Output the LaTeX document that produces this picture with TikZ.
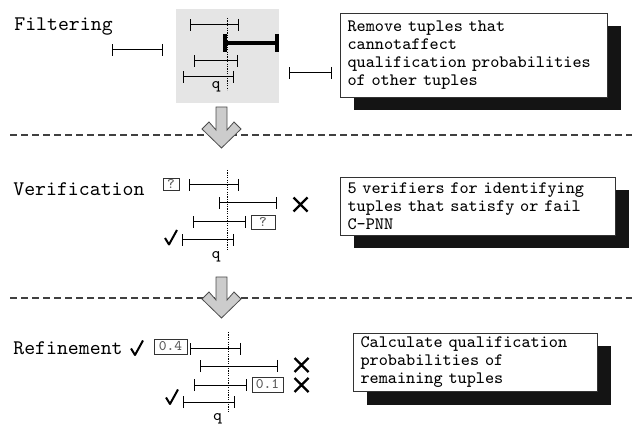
\documentclass[tikz,border=0pt]{standalone}
\usepackage{fontspec}
\usetikzlibrary{arrows.meta,shadows}

\tikzset{
  span/.style={line width=0.5pt, {Bar[width=6pt,line width=0.6pt]}-{Bar[width=6pt,line width=0.6pt]}},
  bigspan/.style={line width=1.8pt, {Bar[width=9pt,line width=1.8pt]}-{Bar[width=9pt,line width=1.8pt]}},
  qline/.style={line width=0.5pt, dash pattern=on 0.6pt off 0.6pt},
  stage/.style={font=\ttfamily\fontsize{10.4}{12}\selectfont, inner sep=0pt, anchor=base west},
  note/.style={draw=black!80, fill=white, line width=0.5pt, align=left,
    font=\ttfamily\fontsize{8.7}{9}\selectfont, inner xsep=3.5pt, inner ysep=0pt, anchor=north west,
    general shadow={fill=black!92, shadow xshift=6.5pt, shadow yshift=-6.5pt}},
  probe/.style={draw=black!80, line width=0.4pt, inner sep=0pt, font=\ttfamily\fontsize{7.3}{7}\selectfont, text=black!65},
  qlabel/.style={font=\ttfamily\fontsize{8}{8}\selectfont, inner sep=0pt},
  divider/.style={draw=black!75, line width=0.7pt, dash pattern=on 3.5pt off 2pt},
  flow/.style={fill=black!20, draw=black!70, line width=0.4pt},
  okmark/.pic={\draw[line width=1pt, line join=round] (-6,0.5) -- (-2,7) -- (6,-7.5);},
  nomark/.pic={\draw[line width=1.1pt] (-7,-7) -- (7,7) (-7,7) -- (7,-7);}
}

\begin{document}
\begin{tikzpicture}[x=0.5pt, y=-0.5pt]
    \useasboundingbox (0,0) rectangle (632,427);

    % Dividers
    \draw[divider] (10,135) -- (632,135);
    \draw[divider] (10,298) -- (632,298);

    % Arrows between stages
    \draw[flow] (216,107) -- (227,107) -- (227,130) -- (234,122) -- (241,129)
        -- (221.5,148) -- (202,129) -- (209,122) -- (216,130) -- cycle;
    \draw[flow, yshift=-85pt] (216,107) -- (227,107) -- (227,130) -- (234,122) -- (241,129)
        -- (221.5,148) -- (202,129) -- (209,122) -- (216,130) -- cycle;

    % Filtering
    \node[stage] (lblfilter) at (14,31) {Filtering};
    \fill[black!10] (176,9) rectangle (279,103);
    \coordinate (f1a) at (190,25);  \coordinate (f1b) at (239,25);
    \coordinate (f2a) at (223,43);  \coordinate (f2b) at (279,43);
    \coordinate (f3a) at (194,61);  \coordinate (f3b) at (238,61);
    \coordinate (f4a) at (183,77);  \coordinate (f4b) at (234,77);
    \coordinate (f5a) at (112,50);  \coordinate (f5b) at (163,50);
    \coordinate (f6a) at (289,73);  \coordinate (f6b) at (332,73);
    \draw[span] (f1a) -- (f1b);
    \draw[bigspan] (f2a) -- (f2b);
    \draw[span] (f3a) -- (f3b);
    \draw[span] (f4a) -- (f4b);
    \draw[span] (f5a) -- (f5b);
    \draw[span] (f6a) -- (f6b);
    \draw[qline] (227,18) -- (227,90);
    \node[qlabel] (qfilter) at (216,87) {q};
    \node[note, text width=126.5pt, minimum height=42pt] (notefilter) at (340,13)
        {Remove tuples that\\cannotaffect\\qualification probabilities\\of other tuples};

    % Verification
    \node[stage] (lblverify) at (13,196) {Verification};
    \coordinate (v1a) at (189,185); \coordinate (v1b) at (239,185);
    \coordinate (v2a) at (219,203); \coordinate (v2b) at (277,203);
    \coordinate (v3a) at (193,222); \coordinate (v3b) at (246,222);
    \coordinate (v4a) at (182,240); \coordinate (v4b) at (234,240);
    \draw[span] (v1a) -- (v1b);
    \draw[span] (v2a) -- (v2b);
    \draw[span] (v3a) -- (v3b);
    \draw[span] (v4a) -- (v4b);
    \draw[qline] (227,170) -- (227,250);
    \node[qlabel] (qverify) at (216,257) {q};
    \node[probe, minimum width=8pt, minimum height=6pt] (v1p) at (171,184) {?};
    \node[probe, minimum width=12pt, minimum height=7pt] (v3p) at (263,222) {?};
    \pic at (300.5,204.5) {nomark};
    \pic at (171,237.5) {okmark};
    \node[note, text width=130.5pt, minimum height=29pt] (noteverify) at (340,177)
        {5 verifiers for identifying\\tuples that satisfy or fail\\C-PNN};

    % Refinement
    \node[stage] (lblrefine) at (13,355) {Refinement};
    \coordinate (r1a) at (190,349); \coordinate (r1b) at (241,349);
    \coordinate (r2a) at (200,366); \coordinate (r2b) at (278,366);
    \coordinate (r3a) at (194,385); \coordinate (r3b) at (247,385);
    \coordinate (r4a) at (183,402); \coordinate (r4b) at (235,402);
    \draw[span] (r1a) -- (r1b);
    \draw[span] (r2a) -- (r2b);
    \draw[span] (r3a) -- (r3b);
    \draw[span] (r4a) -- (r4b);
    \draw[qline] (228,332) -- (228,413);
    \node[qlabel] (qrefine) at (217.5,419) {q};
    \node[probe, minimum width=16.5pt, minimum height=7.5pt] (r1p) at (170.5,346.5) {0.4};
    \node[probe, minimum width=15.5pt, minimum height=7.5pt] (r3p) at (267.5,384.5) {0.1};
    \pic at (137,348) {okmark};
    \pic at (172,397) {okmark};
    \pic at (301.5,365) {nomark};
    \pic at (301.5,385) {nomark};
    \node[note, text width=115pt, minimum height=29pt] (noterefine) at (353,333)
        {Calculate qualification\\probabilities of\\remaining tuples};

\end{tikzpicture}
\end{document}
